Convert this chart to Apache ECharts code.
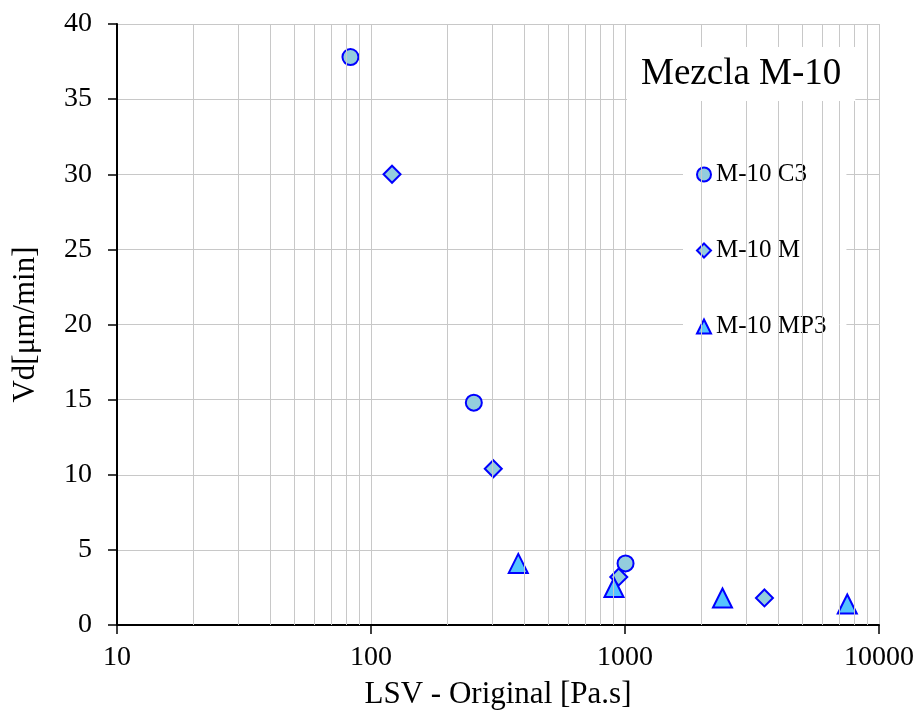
<!DOCTYPE html>
<html>
<head>
<meta charset="utf-8">
<script src="https://cdn.jsdelivr.net/npm/echarts@6/dist/echarts.min.js"></script>
<style>
  html, body {margin: 0; padding: 0; background: #fff;}
  #chart {width: 917px; height: 715px;}
</style>
</head>
<body>
<div id="chart"></div>
<script>
// LSV [Pa.s] vs Vd [um/min], mezcla M-10
var c3X = [83, 254, 1005];
var c3Y = [37.8, 14.8, 4.1];
var mX = [121, 303, 945, 3540];
var mY = [30.0, 10.4, 3.2, 1.8];
var mp3X = [380, 905, 2420, 7500];
var mp3Y = [4.1, 2.5, 1.8, 1.4];
var minorX = [20, 30, 40, 50, 60, 70, 80, 90, 200, 300, 400, 500, 600, 700, 800, 900,
  2000, 3000, 4000, 5000, 6000, 7000, 8000, 9000];

var FONT = '"Liberation Serif", "Times New Roman", serif';
var GRID = '#c8c8c8';

function pairs(xs, ys) {
  return xs.map(function (x, i) { return [x, ys[i]]; });
}

var chart = echarts.init(document.getElementById('chart'));
chart.setOption({
  animation: false,
  title: {
    text: 'Mezcla M-10',
    left: 627,
    top: 47,
    padding: [7, 14],
    backgroundColor: '#fff',
    textStyle: {fontFamily: FONT, fontSize: 37, fontWeight: 'normal', color: '#000', lineHeight: 40}
  },
  legend: {
    orient: 'vertical',
    left: 683,
    top: 133,
    padding: [29, 20, 35, 13],
    backgroundColor: '#fff',
    itemWidth: 14,
    itemHeight: 14,
    itemGap: 51,
    textStyle: {fontFamily: FONT, fontSize: 25, color: '#000'},
    data: ['M-10 C3', 'M-10 M', 'M-10 MP3']
  },
  grid: {left: 117, right: 37, top: 24, bottom: 90},
  xAxis: {
    type: 'log',
    logBase: 10,
    min: 10,
    max: 10000,
    name: 'LSV - Original [Pa.s]',
    nameLocation: 'middle',
    nameGap: 54,
    nameTextStyle: {fontFamily: FONT, fontSize: 31, color: '#000'},
    axisLine: {lineStyle: {color: '#000', width: 2}},
    axisTick: {length: 9, lineStyle: {color: '#000', width: 1.5}},
    axisLabel: {
      fontFamily: FONT, fontSize: 28, color: '#000', margin: 19,
      formatter: function (v) { return String(Math.round(v)); }
    },
    splitLine: {show: true, lineStyle: {color: GRID, width: 1}},
    minorTick: {show: false},
    minorSplitLine: {show: false}
  },
  yAxis: {
    type: 'value',
    min: 0,
    max: 40,
    interval: 5,
    name: 'Vd[\u03bcm/min]',
    nameLocation: 'middle',
    nameGap: 76,
    nameTextStyle: {fontFamily: FONT, fontSize: 31, color: '#000'},
    axisLine: {show: true, lineStyle: {color: '#000', width: 2}},
    axisTick: {show: true, length: 9, lineStyle: {color: '#000', width: 1.5}},
    axisLabel: {fontFamily: FONT, fontSize: 28, color: '#000', margin: 25},
    splitLine: {show: true, lineStyle: {color: GRID, width: 1}}
  },
  series: [
    {
      name: 'minor',
      type: 'scatter',
      data: [],
      silent: true,
      z: 1,
      markLine: {
        silent: true,
        symbol: 'none',
        label: {show: false},
        lineStyle: {color: GRID, width: 1, type: 'solid'},
        data: minorX.map(function (v) { return {xAxis: v}; })
      }
    },
    {
      name: 'M-10 C3',
      type: 'scatter',
      symbol: 'circle',
      symbolSize: 16,
      itemStyle: {color: '#93cddd', borderColor: '#0000ff', borderWidth: 2, opacity: 1},
      data: pairs(c3X, c3Y),
      z: 4
    },
    {
      name: 'M-10 M',
      type: 'scatter',
      symbol: 'diamond',
      symbolSize: 17,
      itemStyle: {color: '#93cddd', borderColor: '#0000ff', borderWidth: 2, opacity: 1},
      data: pairs(mX, mY),
      z: 3
    },
    {
      name: 'M-10 MP3',
      type: 'scatter',
      symbol: 'triangle',
      symbolSize: 19,
      itemStyle: {color: '#55c4ff', borderColor: '#0000ff', borderWidth: 2, opacity: 1},
      data: pairs(mp3X, mp3Y),
      z: 3
    }
  ]
});
</script>
</body>
</html>
